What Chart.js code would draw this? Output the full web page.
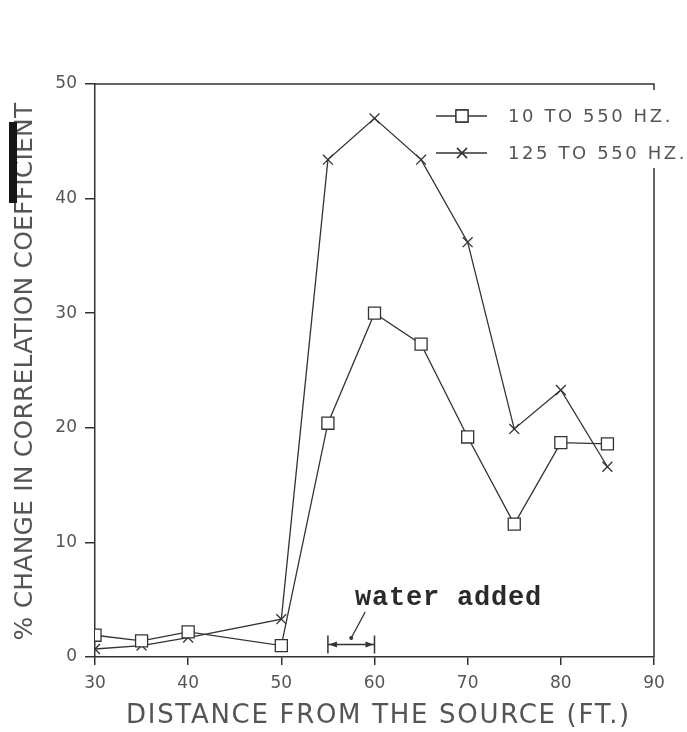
<!DOCTYPE html>
<html><head><meta charset="utf-8">
<script src="https://cdn.jsdelivr.net/npm/chart.js@4.4.1/dist/chart.umd.min.js"></script>
<style>html,body{margin:0;padding:0;background:#fff;} #wrap{width:687px;height:732px;position:relative}</style>
</head><body><div id="wrap"><canvas id="c" width="687" height="732"></canvas></div>
<script>
// ---- data ----
const distances = [30, 35, 40, 50, 55, 60, 65, 70, 75, 80, 85];
const band10to550 = [1.9, 1.4, 2.2, 1.0, 20.4, 30.0, 27.3, 19.2, 11.6, 18.7, 18.6];
const band125to550 = [0.7, 1.0, 1.7, 3.3, 43.4, 47.0, 43.4, 36.2, 19.9, 23.3, 16.6];
const seriesLabels = ['10 TO 550 HZ.', '125 TO 550 HZ.'];
const xRange = [30, 90];
const yRange = [0, 50];
const tickStep = 10;
const xTitle = 'DISTANCE FROM THE SOURCE (FT.)';
const yTitle = '% CHANGE IN CORRELATION COEFFICIENT';
const noteText = 'water added';
const noteSpan = [55, 60];

const INK = '#333';
const TXT = '#555';
const FONT = '"DejaVu Sans", sans-serif';

const deco = {
  id: 'deco',
  afterDraw(chart) {
    const { ctx, chartArea: a, scales: { x, y } } = chart;
    ctx.save();
    // frame: top line and right line (broken by the legend)
    ctx.strokeStyle = INK; ctx.lineWidth = 1.5;
    ctx.beginPath();
    ctx.moveTo(a.left, a.top); ctx.lineTo(a.right, a.top); ctx.lineTo(a.right, a.top + 6);
    ctx.moveTo(a.right, 168); ctx.lineTo(a.right, a.bottom);
    ctx.stroke();

    // axis titles
    ctx.fillStyle = TXT;
    ctx.textAlign = 'center'; ctx.textBaseline = 'middle';
    ctx.letterSpacing = '1.7px';
    ctx.font = '26px ' + FONT;
    ctx.fillText(xTitle, (a.left + a.right) / 2 + 4, a.bottom + 59);
    ctx.save();
    ctx.translate(25, (a.top + a.bottom) / 2 + 1);
    ctx.rotate(-Math.PI / 2);
    ctx.letterSpacing = '0.2px';
    ctx.font = '25px ' + FONT;
    ctx.fillText(yTitle, 0, 0);
    ctx.restore();

    // legend
    chart.data.datasets.forEach((ds, i) => {
      const ly = 116 + i * 37;
      ctx.strokeStyle = ds.borderColor; ctx.lineWidth = 1.3;
      ctx.beginPath(); ctx.moveTo(436, ly); ctx.lineTo(487, ly); ctx.stroke();
      ctx.fillStyle = '#fff';
      Chart.helpers.drawPoint(ctx, { pointStyle: ds.pointStyle, radius: ds.pointRadius, borderWidth: ds.pointBorderWidth }, 462, ly);
      ctx.fill && ds.pointStyle === 'rect' && ctx.fill();
      ctx.stroke();
      ctx.fillStyle = TXT; ctx.textAlign = 'left'; ctx.textBaseline = 'middle';
      ctx.letterSpacing = '2.6px';
      ctx.font = '18px ' + FONT;
      ctx.fillText(ds.label, 508, ly + 1);
    });

    // "water added" annotation
    const x1 = x.getPixelForValue(noteSpan[0]);
    const x2 = x.getPixelForValue(noteSpan[1]);
    const by = y.getPixelForValue(1.1);
    ctx.strokeStyle = INK; ctx.fillStyle = INK; ctx.lineWidth = 1.5;
    ctx.beginPath();
    ctx.moveTo(x1, by - 9); ctx.lineTo(x1, by + 9);
    ctx.moveTo(x2, by - 9); ctx.lineTo(x2, by + 9);
    ctx.moveTo(x1, by); ctx.lineTo(x2, by);
    ctx.stroke();
    ctx.beginPath();
    ctx.moveTo(x1 + 1, by); ctx.lineTo(x1 + 9, by - 3); ctx.lineTo(x1 + 9, by + 3); ctx.closePath();
    ctx.moveTo(x2 - 1, by); ctx.lineTo(x2 - 9, by - 3); ctx.lineTo(x2 - 9, by + 3); ctx.closePath();
    ctx.fill();
    const dx = x.getPixelForValue(57.5), dy = y.getPixelForValue(1.66);
    ctx.beginPath(); ctx.arc(dx, dy, 2, 0, Math.PI * 2); ctx.fill();
    ctx.lineWidth = 1.3;
    ctx.beginPath(); ctx.moveTo(dx, dy); ctx.lineTo(dx + 14, dy - 26); ctx.stroke();
    ctx.letterSpacing = '0.8px';
    ctx.font = 'bold 27px "Liberation Mono", "DejaVu Sans Mono", monospace';
    ctx.textAlign = 'left'; ctx.textBaseline = 'alphabetic';
    ctx.fillStyle = '#2a2a2a';
    ctx.fillText(noteText, x.getPixelForValue(57.9), y.getPixelForValue(4.54));

    // dark scan mark on the left edge
    ctx.fillStyle = '#151515';
    ctx.fillRect(9, 122, 8, 81);
    ctx.restore();
  }
};

const toPts = vals => distances.map((d, i) => ({ x: d, y: vals[i] }));

new Chart(document.getElementById('c'), {
  type: 'line',
  data: {
    datasets: [
      { label: seriesLabels[0], data: toPts(band10to550), borderColor: INK, borderWidth: 1.3,
        pointStyle: 'rect', pointRadius: 8.5, pointBorderWidth: 1.3, pointBackgroundColor: '#fff', pointBorderColor: INK, tension: 0 },
      { label: seriesLabels[1], data: toPts(band125to550), borderColor: INK, borderWidth: 1.3,
        pointStyle: 'crossRot', pointRadius: 7, pointBorderWidth: 1.3, pointBackgroundColor: INK, pointBorderColor: INK, tension: 0 }
    ]
  },
  options: {
    responsive: false, animation: false, devicePixelRatio: 1,
    layout: { padding: { left: 0, top: 84, right: 33, bottom: 0 } },
    plugins: { legend: { display: false }, tooltip: { enabled: false } },
    scales: {
      x: {
        type: 'linear', min: xRange[0], max: xRange[1],
        afterFit: s => { s.height = 75; },
        ticks: { stepSize: tickStep, color: TXT, font: { family: FONT, size: 17 }, padding: 8, maxRotation: 0 },
        grid: { drawOnChartArea: false, drawTicks: true, tickLength: 8, color: INK, lineWidth: 1.5 },
        border: { display: true, color: INK, width: 1.5 }
      },
      y: {
        type: 'linear', min: yRange[0], max: yRange[1],
        afterFit: s => { s.width = 95; },
        ticks: { stepSize: tickStep, color: TXT, font: { family: FONT, size: 17 }, padding: 8 },
        grid: { drawOnChartArea: false, drawTicks: true, tickLength: 10, color: INK, lineWidth: 1.5 },
        border: { display: true, color: INK, width: 1.5 }
      }
    }
  },
  plugins: [deco]
});
</script></body></html>
